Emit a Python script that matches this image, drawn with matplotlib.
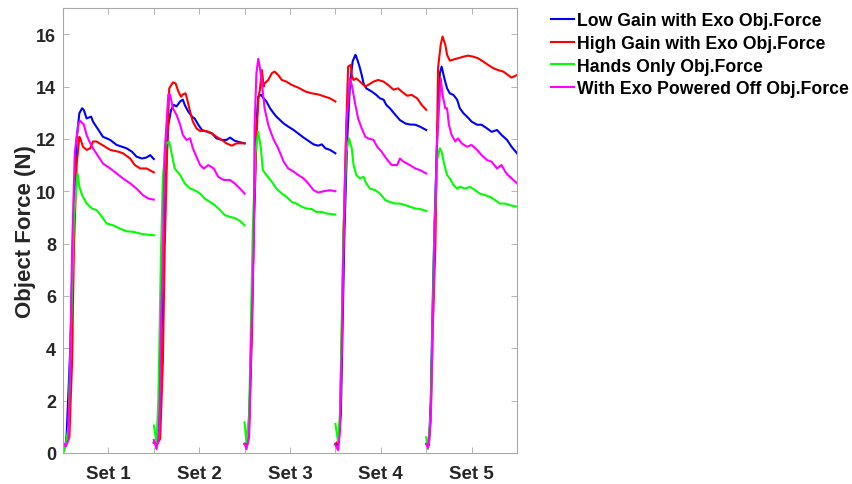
import matplotlib
matplotlib.use('Agg')
import matplotlib.pyplot as plt
import numpy as np

plt.rcParams['font.family'] = ['Liberation Sans', 'DejaVu Sans']

set_labels = ['Set 1', 'Set 2', 'Set 3', 'Set 4', 'Set 5']
set_length = 100  # samples per set

# ---- Low Gain with Exo (blue) ----
low_t = [
    [0, 3, 4, 8, 11, 15, 18, 21, 23, 26, 31, 33, 39, 44, 52, 59, 65, 70, 76, 81, 87, 92, 96, 100],
    [0, 4, 7, 10, 13, 16, 19, 22, 25, 29, 32, 34, 38, 42, 45, 49, 53, 58, 64, 69, 75, 80, 84, 89, 95, 100],
    [0, 3, 5, 8, 10, 13, 15, 18, 21, 24, 28, 32, 35, 39, 43, 48, 54, 59, 65, 70, 76, 81, 85, 89, 94, 100],
    [0, 3, 6, 8, 10, 13, 16, 19, 22, 23, 26, 29, 31, 34, 40, 45, 49, 53, 56, 60, 66, 71, 77, 82, 88, 93, 100],
    [0, 3, 5, 7, 9, 12, 15, 17, 20, 23, 26, 30, 34, 37, 41, 45, 50, 56, 61, 67, 72, 78, 83, 89, 94, 100],
]
low_v = [
    [0.3, 0.35, 0.7, 4, 8, 12.0, 12.98, 13.17, 13.1, 12.78, 12.85, 12.66, 12.34, 12.08, 11.96, 11.77, 11.7, 11.64, 11.51, 11.32, 11.25, 11.29, 11.38, 11.23],
    [0.4, 0.4, 2, 7, 10.5, 12.54, 13.1, 13.3, 13.24, 13.43, 13.5, 13.3, 13.04, 12.85, 12.78, 12.54, 12.34, 12.28, 12.21, 12.02, 11.96, 11.96, 12.05, 11.93, 11.87, 11.83],
    [0.35, 0.35, 1.2, 5, 8.5, 12.5, 13.62, 13.68, 13.55, 13.43, 13.17, 12.98, 12.85, 12.72, 12.59, 12.47, 12.34, 12.21, 12.05, 11.93, 11.79, 11.74, 11.79, 11.64, 11.58, 11.45],
    [0.35, 0.3, 1.5, 5, 8.5, 12, 14.06, 14.96, 15.21, 15.14, 14.83, 14.44, 14.12, 13.93, 13.81, 13.68, 13.55, 13.5, 13.3, 13.17, 12.92, 12.72, 12.59, 12.55, 12.54, 12.47, 12.34],
    [0.35, 0.3, 2, 5.5, 8.5, 12, 14.51, 14.76, 14.31, 13.93, 13.74, 13.68, 13.5, 13.17, 12.98, 12.85, 12.66, 12.54, 12.54, 12.4, 12.27, 12.34, 12.15, 11.96, 11.7, 11.45],
]

# ---- High Gain with Exo (red) ----
high_t = [
    [0, 3, 7, 10, 12, 15, 18, 19, 22, 26, 30, 33, 37, 43, 52, 61, 66, 74, 79, 85, 92, 100],
    [0, 4, 7, 10, 12, 15, 17, 21, 24, 27, 30, 32, 35, 37, 40, 43, 47, 51, 58, 64, 69, 75, 80, 86, 91, 100],
    [0, 3, 5, 8, 10, 13, 15, 17, 19, 21, 22, 26, 30, 33, 37, 41, 46, 52, 59, 67, 74, 81, 89, 94, 100],
    [0, 3, 5, 7, 9, 12, 14, 17, 18, 20, 23, 27, 33, 36, 42, 47, 53, 58, 64, 69, 73, 79, 84, 90, 95, 100],
    [0, 3, 5, 7, 10, 12, 13, 16, 18, 21, 23, 26, 30, 35, 41, 46, 52, 57, 63, 68, 74, 79, 85, 90, 94, 100],
]
high_v = [
    [0.3, 0.3, 0.6, 3.5, 7.8, 11.0, 12.08, 12.02, 11.7, 11.58, 11.64, 11.9, 11.9, 11.77, 11.58, 11.51, 11.45, 11.25, 11.0, 10.87, 10.87, 10.72],
    [0.4, 0.35, 0.55, 3.5, 7.8, 12.0, 13.93, 14.16, 14.12, 13.81, 13.61, 13.7, 13.74, 13.48, 13.04, 12.66, 12.4, 12.3, 12.3, 12.21, 12.08, 11.96, 11.83, 11.74, 11.83, 11.83],
    [0.35, 0.35, 1, 4.5, 8.5, 12.0, 13.5, 13.93, 14.63, 14.0, 14.12, 14.25, 14.51, 14.57, 14.44, 14.25, 14.19, 14.06, 13.96, 13.81, 13.74, 13.7, 13.61, 13.55, 13.43],
    [0.34, 0.45, 1.2, 4.5, 8.5, 12.5, 14.76, 14.83, 14.44, 14.25, 14.31, 14.19, 14.0, 14.06, 14.19, 14.25, 14.19, 14.06, 13.88, 13.93, 13.81, 13.65, 13.68, 13.55, 13.3, 13.11],
    [0.34, 0.35, 1.5, 4.5, 7.8, 12, 14.7, 15.6, 15.91, 15.6, 15.21, 14.99, 15.03, 15.08, 15.14, 15.18, 15.14, 15.08, 14.95, 14.83, 14.7, 14.63, 14.57, 14.44, 14.34, 14.44],
]

# ---- Hands Only (green) ----
hands_t = [
    [0, 1, 3, 6, 9, 12, 16, 18, 21, 26, 32, 37, 43, 48, 55, 63, 70, 77, 88, 100],
    [0, 3, 5, 8, 10, 13, 17, 20, 23, 29, 34, 40, 45, 51, 56, 62, 67, 73, 78, 84, 89, 95, 100],
    [0, 2, 5, 7, 9, 12, 15, 18, 20, 24, 30, 35, 41, 46, 52, 57, 63, 68, 74, 79, 85, 90, 100],
    [0, 3, 5, 7, 9, 12, 15, 18, 20, 23, 27, 31, 34, 38, 44, 49, 55, 60, 66, 71, 77, 82, 88, 93, 100],
    [0, 2, 5, 7, 9, 12, 15, 17, 20, 23, 26, 30, 34, 37, 43, 48, 54, 59, 65, 70, 76, 81, 87, 92, 100],
]
hands_v = [
    [0.2, 0.05, 0.3, 1.0, 5, 9, 10.68, 10.17, 9.85, 9.53, 9.34, 9.28, 9.02, 8.77, 8.7, 8.57, 8.47, 8.45, 8.36, 8.32],
    [1.05, 0.41, 2, 7.8, 10.5, 11.8, 11.9, 11.38, 10.87, 10.62, 10.3, 10.1, 10.04, 9.91, 9.72, 9.59, 9.47, 9.28, 9.09, 9.02, 8.98, 8.86, 8.7],
    [1.17, 0.41, 1.5, 5, 8.5, 11.5, 12.27, 11.64, 10.81, 10.62, 10.36, 10.1, 9.91, 9.79, 9.59, 9.53, 9.41, 9.34, 9.32, 9.21, 9.21, 9.15, 9.11],
    [1.11, 0.41, 1.5, 5, 8.5, 11.5, 12.02, 11.64, 11.0, 10.62, 10.49, 10.55, 10.3, 10.1, 10.04, 9.91, 9.66, 9.59, 9.53, 9.53, 9.47, 9.41, 9.34, 9.32, 9.25],
    [0.6, 0.15, 1.5, 5, 8.5, 11.2, 11.64, 11.51, 11.0, 10.62, 10.49, 10.24, 10.1, 10.17, 10.1, 10.17, 10.04, 9.91, 9.85, 9.79, 9.66, 9.53, 9.53, 9.47, 9.41],
]

# ---- With Exo Powered Off (magenta) ----
off_t = [
    [0, 3, 6, 8, 10, 13, 17, 19, 23, 26, 30, 33, 39, 44, 52, 59, 66, 74, 81, 88, 94, 100],
    [0, 3, 6, 8, 10, 12, 16, 18, 21, 25, 29, 32, 36, 40, 43, 47, 51, 55, 60, 66, 71, 77, 84, 89, 95, 100],
    [0, 2, 5, 7, 10, 11, 13, 15, 17, 20, 22, 26, 30, 33, 37, 43, 48, 54, 59, 65, 70, 76, 81, 87, 94, 100],
    [0, 3, 5, 7, 9, 12, 16, 18, 20, 22, 25, 29, 33, 36, 42, 46, 51, 56, 62, 68, 71, 75, 82, 88, 93, 100],
    [0, 2, 5, 7, 9, 12, 16, 18, 21, 23, 25, 28, 32, 35, 39, 45, 50, 56, 61, 67, 72, 78, 83, 87, 90, 96, 100],
]
off_v = [
    [0.35, 0.25, 0.5, 3.5, 7.8, 11.5, 12.6, 12.69, 12.54, 12.15, 11.83, 11.64, 11.32, 11.06, 10.87, 10.68, 10.49, 10.3, 10.1, 9.85, 9.72, 9.68],
    [0.5, 0.15, 0.8, 5, 7.8, 11.5, 13.7, 13.68, 13.17, 12.92, 12.54, 12.15, 11.96, 12.02, 11.64, 11.32, 11.0, 10.87, 11.0, 10.87, 10.55, 10.43, 10.43, 10.3, 10.1, 9.91],
    [0.35, 0.15, 0.6, 4, 7.8, 12.5, 14.5, 15.06, 14.7, 13.81, 13.17, 12.54, 12.15, 11.9, 11.64, 11.13, 10.87, 10.75, 10.62, 10.49, 10.3, 10.04, 9.95, 10.0, 10.04, 10.0],
    [0.3, 0.11, 0.8, 4, 8, 12.5, 14.31, 14.06, 13.68, 13.3, 12.78, 12.4, 12.08, 12.02, 11.96, 11.7, 11.51, 11.25, 11.0, 11.0, 11.25, 11.13, 11.0, 10.87, 10.81, 10.68],
    [0.34, 0.2, 1.2, 4.5, 8, 12, 14.31, 13.68, 13.17, 13.17, 12.54, 12.15, 11.9, 12.02, 11.83, 11.7, 11.77, 11.58, 11.38, 11.19, 11.13, 10.87, 11.0, 10.75, 10.62, 10.43, 10.3],
]

series_names = ['Low Gain with Exo Obj.Force', 'High Gain with Exo Obj.Force',
                'Hands Only Obj.Force', 'With Exo Powered Off Obj.Force']
series_colors = ['#0000ff', '#ff0000', '#00ff00', '#ff00ff']
series_t = [low_t, high_t, hands_t, off_t]
series_v = [low_v, high_v, hands_v, off_v]

fig = plt.figure(figsize=(8.52, 4.85), dpi=100)
ax = fig.add_axes([63 / 852, 31 / 485, 454 / 852, 445 / 485])

for name, color, ts, vs in zip(series_names, series_colors, series_t, series_v):
    xs, ys = [], []
    for k, (t, v) in enumerate(zip(ts, vs)):
        xs += [tt + k * set_length for tt in t] + [np.nan]
        ys += list(v) + [np.nan]
    ax.plot(xs, ys, color=color, lw=1.5, label=name, solid_joinstyle='round')

n_sets = len(set_labels)
ax.set_xlim(0, n_sets * set_length)
ax.set_ylim(0, 17)
xt = np.arange(set_length / 2, n_sets * set_length, set_length / 2)
ax.set_xticks(xt)
xl = []
for i in range(len(xt)):
    xl.append(set_labels[i // 2] if i % 2 == 0 else '')
ax.set_xticklabels(xl)
ax.set_yticks(np.arange(0, 17, 2))

grey = '#262626'
ax.tick_params(direction='in', top=True, right=True, length=4, width=0.6,
               color='#a8a8a8', labelcolor=grey)
ax.tick_params(axis='x', pad=9, labelsize=13.5)
ax.tick_params(axis='y', pad=5, labelsize=13)
for lbl in ax.get_xticklabels() + ax.get_yticklabels():
    lbl.set_fontweight('bold')
for sp in ax.spines.values():
    sp.set_color('#a8a8a8')
    sp.set_linewidth(0.8)

ax.set_ylabel('Object Force (N)', fontsize=16, fontweight='bold', color=grey, labelpad=0)

fig.legend(loc='upper left', bbox_to_anchor=(551 / 852, (485 - 13) / 485),
           frameon=False, prop={'weight': 'bold', 'size': 12.7},
           handlelength=1.3, handletextpad=0.18, labelspacing=0.33,
           borderpad=0, borderaxespad=0)

fig.savefig('out.png', dpi=100)
